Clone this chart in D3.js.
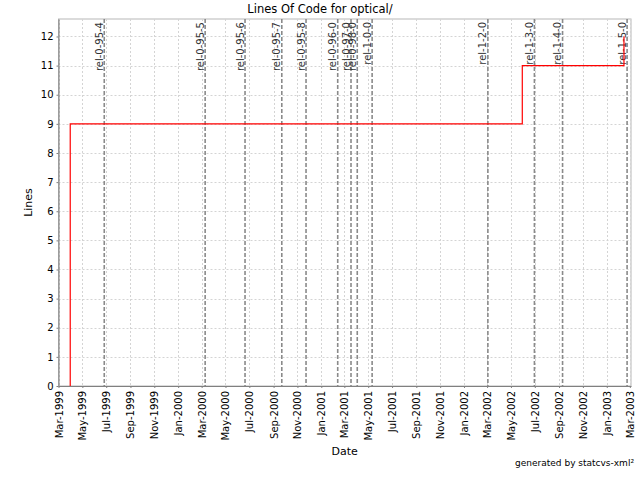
<!DOCTYPE html>
<html><head><meta charset="utf-8">
<script src="https://cdn.jsdelivr.net/npm/d3@7"></script>
<style>body{margin:0;background:#fff} svg{display:block}</style>
</head><body>
<svg id="c" width="640" height="480"></svg>
<script>
// ---- data ----
const stepDates = ["1999-03-31", "1999-03-31", "2002-05-30", "2003-02-14"];
const stepValues = [0, 9, 11, 12];
const releaseNames = ["rel-0-95-4","rel-0-95-5","rel-0-95-6","rel-0-95-7","rel-0-95-8","rel-0-96-0","rel-0-97-0","rel-0-98-0","rel-1-0-0","rel-1-2-0","rel-1-3-0","rel-1-4-0","rel-1-5-0"];
const releaseDates = ["1999-06-26","2000-03-10","2000-06-20","2000-09-22","2000-11-23","2001-02-12","2001-03-18","2001-04-03","2001-05-11","2002-03-03","2002-06-30","2002-09-10","2003-02-22"];
const yTickValues = [0,1,2,3,4,5,6,7,8,9,10,11,12];
const xDomain = ["1999-03-01", "2003-03-04"];
const yDomain = [0, 12.6];
const titleText = "Lines Of Code for optical/";
const xLabel = "Date";
const yLabel = "Lines";
const footer = "generated by statcvs-xml\u00B2";

// ---- layout ----
const parse = d3.utcParse("%Y-%m-%d");
const L = 58.5, R = 631, T = 19, B = 386;
const font = "DejaVu Sans, sans-serif";
const svg = d3.select("#c");

const x = d3.scaleUtc().domain(xDomain.map(parse)).range([L, R]);
const y = d3.scaleLinear().domain(yDomain).range([B, T]);

// plot background + outline
svg.append("rect").attr("x", L).attr("y", T).attr("width", R - L).attr("height", B - T)
  .attr("fill", "#fff").attr("stroke", "#b8b8b8").attr("stroke-width", 1);

const xTicks = x.ticks(d3.utcMonth.every(2));

// grid
svg.append("g").selectAll("line").data(xTicks).join("line")
  .attr("x1", d => Math.round(x(d)) + 0.5).attr("x2", d => Math.round(x(d)) + 0.5)
  .attr("y1", T).attr("y2", B)
  .attr("stroke", "#d4d4d4").attr("stroke-dasharray", "2,2");
svg.append("g").selectAll("line").data(yTickValues).join("line")
  .attr("x1", L).attr("x2", R)
  .attr("y1", d => Math.round(y(d)) + 0.5).attr("y2", d => Math.round(y(d)) + 0.5)
  .attr("stroke", "#d4d4d4").attr("stroke-dasharray", "2,2");

// release markers
const rel = releaseDates.map((d, i) => ({date: parse(d), name: releaseNames[i]}));
const rg = svg.append("g");
rg.selectAll("line").data(rel).join("line")
  .attr("x1", d => x(d.date)).attr("x2", d => x(d.date))
  .attr("y1", T).attr("y2", B)
  .attr("stroke", "#8a8a8a").attr("stroke-width", 1.6).attr("stroke-dasharray", "4,2");
rg.selectAll("text").data(rel).join("text")
  .attr("transform", d => `translate(${x(d.date) - 1.5},22) rotate(-90)`)
  .attr("text-anchor", "end")
  .attr("font-family", font).attr("font-size", 10).attr("fill", "#333")
  .text(d => d.name);

// step line
const pts = stepDates.map((d, i) => [parse(d), stepValues[i]]);
const line = d3.line().x(d => x(d[0])).y(d => y(d[1])).curve(d3.curveStepAfter);
svg.append("path").datum(pts).attr("d", line)
  .attr("fill", "none").attr("stroke", "#ff0000").attr("stroke-width", 1.2);

// axes
const xAxis = d3.axisBottom(x).tickValues(xTicks).tickFormat(d3.utcFormat("%b-%Y")).tickSize(2).tickSizeOuter(0);
const gx = svg.append("g").attr("transform", `translate(0,${B})`).call(xAxis);
gx.select(".domain").attr("stroke", "#808080");
gx.selectAll(".tick line").attr("stroke", "#808080");
gx.selectAll(".tick text")
  .attr("font-family", font).attr("font-size", 10).attr("fill", "#000")
  .attr("transform", "rotate(-90)")
  .attr("text-anchor", "end")
  .attr("x", -5).attr("y", 0).attr("dy", "0.35em");

const yAxis = d3.axisLeft(y).tickValues(yTickValues).tickSize(2).tickSizeOuter(0);
const gy = svg.append("g").attr("transform", `translate(${L},0)`).call(yAxis);
gy.select(".domain").attr("stroke", "#808080");
gy.selectAll(".tick line").attr("stroke", "#808080");
gy.selectAll(".tick text").attr("font-family", font).attr("font-size", 10).attr("fill", "#000").attr("x", -5);

// titles
svg.append("text").attr("x", 320).attr("y", 13).attr("text-anchor", "middle")
  .attr("font-family", font).attr("font-size", 11.5).attr("fill", "#000").text(titleText);
svg.append("text").attr("x", (L + R) / 2).attr("y", 455).attr("text-anchor", "middle")
  .attr("font-family", font).attr("font-size", 11).attr("fill", "#000").text(xLabel);
svg.append("text").attr("transform", `translate(32,${(T + B) / 2}) rotate(-90)`).attr("text-anchor", "middle")
  .attr("font-family", font).attr("font-size", 11).attr("fill", "#000").text(yLabel);
svg.append("text").attr("x", 634).attr("y", 466).attr("text-anchor", "end")
  .attr("font-family", font).attr("font-size", 9).attr("fill", "#000").text(footer);
</script>
</body></html>
